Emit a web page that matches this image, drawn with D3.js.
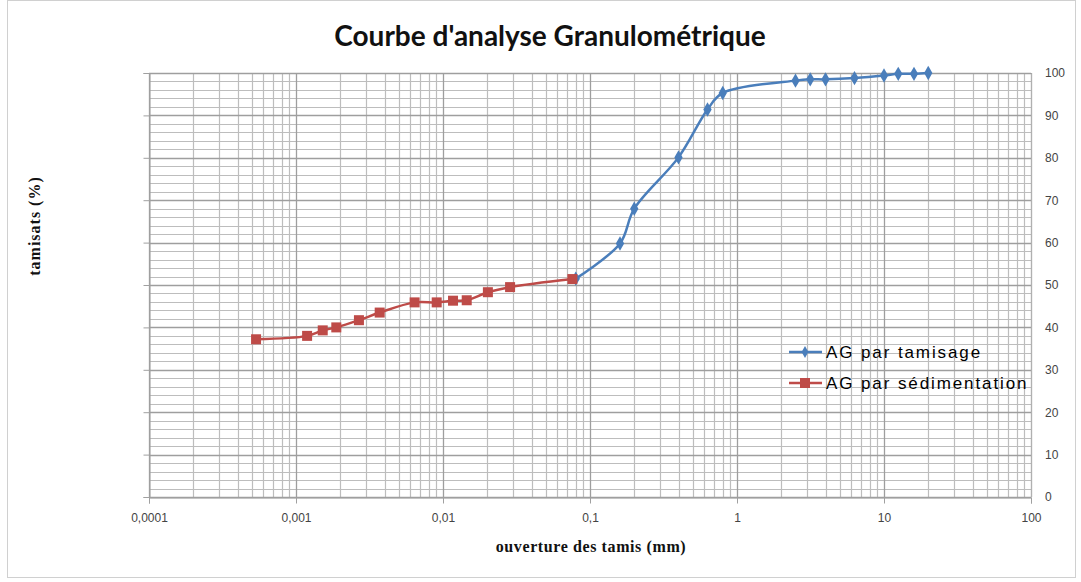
<!DOCTYPE html>
<html><head><meta charset="utf-8">
<script src="https://cdn.jsdelivr.net/npm/d3@7"></script>
<style>body{margin:0;background:#fff}svg{display:block}</style>
</head><body>
<script>
const title = "Courbe d'analyse Granulométrique";
const xTitle = "ouverture des tamis (mm)";
const yTitle = "tamisats (%)";
const seriesNames = ["AG par tamisage", "AG par sédimentation"];
const tamisX = [0.08, 0.16, 0.2, 0.4, 0.63, 0.8, 2.5, 3.15, 4, 6.3, 10, 12.5, 16, 20];
const tamisY = [51.5, 59.8, 68, 80.1, 91.4, 95.3, 98.2, 98.5, 98.5, 98.8, 99.4, 99.8, 99.8, 100];
const sedX = [0.000535, 0.00119, 0.00152, 0.00188, 0.00268, 0.00371, 0.00641, 0.00906, 0.0117, 0.0145, 0.0202, 0.0286, 0.0759];
const sedY = [37.2, 38.0, 39.3, 40.0, 41.7, 43.5, 45.9, 45.9, 46.3, 46.4, 48.3, 49.5, 51.4];
const xTickVals = [0.0001, 0.001, 0.01, 0.1, 1, 10, 100];
const xTickLabels = ["0,0001", "0,001", "0,01", "0,1", "1", "10", "100"];
const yTickVals = [0, 10, 20, 30, 40, 50, 60, 70, 80, 90, 100];

const W = 1081, H = 582;
const L = 149, R = 1031, T = 73, B = 497;
const svg = d3.select("body").append("svg").attr("width", W).attr("height", H);
svg.append("rect").attr("x", 7.5).attr("y", 0.5).attr("width", 1068).attr("height", 577)
  .attr("fill", "#fff").attr("stroke", "#d0d0d0");

const x = d3.scaleLog().domain([0.0001, 100]).range([L, R]);
const y = d3.scaleLinear().domain([0, 100]).range([B, T]);

const g = svg.append("g");
const yMinor = d3.range(0, 101, 2).filter(v => v % 10 !== 0);
g.selectAll(".hm").data(yMinor).enter().append("line")
  .attr("x1", L).attr("x2", R).attr("y1", d => Math.round(y(d)) + 0.5).attr("y2", d => Math.round(y(d)) + 0.5)
  .attr("stroke", "#bdbdbd").attr("stroke-width", 1.2);
const xMinor = [];
for (let e = -4; e < 2; e++) for (let k = 2; k <= 9; k++) xMinor.push(k * Math.pow(10, e));
g.selectAll(".vm").data(xMinor).enter().append("line")
  .attr("y1", T).attr("y2", B).attr("x1", d => Math.round(x(d)) + 0.5).attr("x2", d => Math.round(x(d)) + 0.5)
  .attr("stroke", "#bdbdbd").attr("stroke-width", 1.2);
g.selectAll(".hM").data(yTickVals).enter().append("line")
  .attr("x1", L).attr("x2", R).attr("y1", d => Math.round(y(d)) + 0.5).attr("y2", d => Math.round(y(d)) + 0.5)
  .attr("stroke", "#9e9e9e").attr("stroke-width", 1.3);
g.selectAll(".vM").data(xTickVals).enter().append("line")
  .attr("y1", T).attr("y2", B).attr("x1", d => Math.round(x(d)) + 0.5).attr("x2", d => Math.round(x(d)) + 0.5)
  .attr("stroke", "#9e9e9e").attr("stroke-width", 1.3);

const xAxis = d3.axisBottom(x).tickValues(xTickVals).tickFormat((d, i) => xTickLabels[i]).tickSize(6).tickPadding(10);
const xa = svg.append("g").attr("transform", `translate(0,${B + 0.5})`).call(xAxis);
xa.select(".domain").attr("stroke", "#a0a0a0");
xa.selectAll(".tick line").attr("stroke", "#a0a0a0");
xa.selectAll("text").attr("font-family", "Liberation Sans, Arial, sans-serif").attr("font-size", 12).attr("fill", "#444");

const yAxisL = d3.axisLeft(y).tickValues(yTickVals).tickFormat("").tickSize(6);
const yl = svg.append("g").attr("transform", `translate(${L + 0.5},0)`).call(yAxisL);
yl.select(".domain").attr("stroke", "#a0a0a0");
yl.selectAll(".tick line").attr("stroke", "#a0a0a0");

const yAxisR = d3.axisRight(y).tickValues(yTickVals).tickSize(0).tickPadding(14);
const yr = svg.append("g").attr("transform", `translate(${R},0)`).call(yAxisR);
yr.select(".domain").attr("stroke", "#b0b0b0");
yr.selectAll("text").attr("font-family", "Liberation Sans, Arial, sans-serif").attr("font-size", 12).attr("fill", "#444");

const line = d3.line().x(d => x(d[0])).y(d => y(d[1])).curve(d3.curveCatmullRom.alpha(0.5));
const blue = "#4a7ebb", red = "#be4b48";
const tamis = tamisX.map((v, i) => [v, tamisY[i]]);
const sed = sedX.map((v, i) => [v, sedY[i]]);
svg.append("path").datum(tamis).attr("d", line).attr("fill", "none").attr("stroke", blue).attr("stroke-width", 2.5);
svg.append("path").datum(sed).attr("d", line).attr("fill", "none").attr("stroke", red).attr("stroke-width", 2.5);

const diamond = d3.symbol().type(d3.symbolDiamond).size(60);
svg.selectAll(".dm").data(tamis).enter().append("path").attr("d", diamond)
  .attr("transform", d => `translate(${x(d[0])},${y(d[1])})`).attr("fill", blue);
svg.selectAll(".sq").data(sed).enter().append("rect")
  .attr("x", d => x(d[0]) - 5).attr("y", d => y(d[1]) - 5).attr("width", 10).attr("height", 10).attr("fill", red);

const lg = svg.append("g").attr("font-family", "Liberation Sans, Arial, sans-serif").attr("font-size", 17)
  .attr("letter-spacing", 1.9).attr("fill", "#000");
[[blue, 352, "d"], [red, 383, "s"]].forEach((c, i) => {
  lg.append("line").attr("x1", 789).attr("x2", 822).attr("y1", c[1]).attr("y2", c[1]).attr("stroke", c[0]).attr("stroke-width", 2.5);
  if (c[2] === "d") lg.append("path").attr("d", d3.symbol().type(d3.symbolDiamond).size(40)).attr("transform", `translate(805,${c[1]})`).attr("fill", c[0]);
  else lg.append("rect").attr("x", 800).attr("y", c[1] - 5).attr("width", 10).attr("height", 10).attr("fill", c[0]);
  lg.append("text").attr("x", 826).attr("y", c[1] + 6).text(seriesNames[i]);
});

svg.append("text").attr("x", 550).attr("y", 46).attr("text-anchor", "middle")
  .attr("font-family", "Lato, 'Open Sans', sans-serif").attr("font-weight", "bold").attr("font-size", 28).attr("fill", "#111").text(title);
svg.append("text").attr("x", 591).attr("y", 552).attr("text-anchor", "middle")
  .attr("font-family", "Liberation Serif, serif").attr("font-weight", "bold").attr("font-size", 16).attr("letter-spacing", 0.6).attr("fill", "#111").text(xTitle);
svg.append("text").attr("transform", "translate(40,226) rotate(-90)").attr("text-anchor", "middle")
  .attr("font-family", "Liberation Serif, serif").attr("font-weight", "bold").attr("font-size", 16).attr("letter-spacing", 1).attr("fill", "#111").text(yTitle);
</script>
</body></html>
